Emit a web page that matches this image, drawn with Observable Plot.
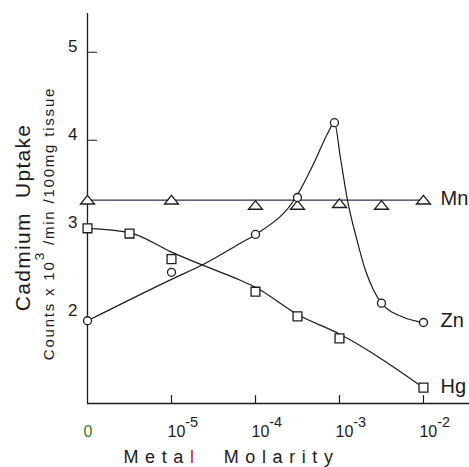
<!DOCTYPE html>
<html>
<head>
<meta charset="utf-8">
<script src="https://cdn.jsdelivr.net/npm/d3@7"></script>
<script src="https://cdn.jsdelivr.net/npm/@observablehq/plot@0.6"></script>
<style>
  html, body { margin: 0; padding: 0; background: #fff; overflow: hidden; }
  #chart svg { display: block; }
</style>
</head>
<body>
<div id="chart"></div>
<script>
// ---- data (x = log10 of metal molarity; the "0" control sits one decade left of 10^-5)
const xTicks = [-6, -5, -4, -3, -2];
const xTickLabels = ["0", "10^{-5}", "10^{-4}", "10^{-3}", "10^{-2}"];
const yTicks = [2, 3, 4, 5];
const yTickMarks = [4, 5];
const xDomain = [-6, -1.452];
const yDomain = [1.01, 5.44];

const series = ["Mn", "Zn", "Hg"];

const mnX = [-6, -5, -4, -3.5, -3, -2.5, -2];
const mnY = [3.32, 3.32, 3.26, 3.26, 3.28, 3.26, 3.32];
const znX = [-6, -5, -4, -3.5, -3.06, -2.5, -2];
const znY = [1.95, 2.50, 2.93, 3.35, 4.20, 2.15, 1.93];
const hgX = [-6, -5.5, -5, -4, -3.5, -3, -2];
const hgY = [3.00, 2.94, 2.65, 2.28, 2.00, 1.75, 1.19];

// hand-drawn fitted curves
const mnFitX = [-6, -2];
const mnFitY = [3.32, 3.32];
const znFitX = [-6, -5, -4.6, -4.18, -4, -3.52, -3.29, -3.14, -3.06, -2.99, -2.905, -2.79, -2.69, -2.595, -2.5, -2.24, -2];
const znFitY = [1.95, 2.42, 2.60, 2.83, 2.93, 3.35, 3.77, 4.08, 4.20, 3.81, 3.32, 2.86, 2.52, 2.30, 2.15, 1.99, 1.93];
const hgFitX = [-6, -5.5, -5, -4.6, -4.18, -4, -3.5, -3, -2];
const hgFitY = [3.00, 2.95, 2.73, 2.57, 2.41, 2.33, 2.02, 1.80, 1.19];

const xTitle = "Metal\u00a0\u00a0Molarity";
const yTitle = "Cadmium\u00a0\u00a0Uptake";
const ySubtitle = "Counts x 10^{3} /min /100mg tissue";

// ---- tables
const table = (xs, ys) => xs.map((x, i) => ({x, y: ys[i]}));
const mn = table(mnX, mnY), zn = table(znX, znY), hg = table(hgX, hgY);
const mnFit = table(mnFitX, mnFitY), znFit = table(znFitX, znFitY), hgFit = table(hgFitX, hgFitY);
const labels = series.map((s, i) => {
  const pts = [mn, zn, hg][i];
  return {x: pts[pts.length - 1].x, y: pts[pts.length - 1].y, text: s};
});

// ---- styles
const ink = "#1c1c1c";
const flatTriangle = {
  draw(context, size) {
    const r = Math.sqrt(size / Math.PI);
    context.moveTo(0, -0.68 * r);
    context.lineTo(r, 0.55 * r);
    context.lineTo(-r, 0.55 * r);
    context.closePath();
  }
};
const tickLine = {
  draw(context, l) { context.moveTo(0, 0); context.lineTo(0, -l); }
};

const chart = Plot.plot({
  width: 469,
  height: 467,
  marginTop: 13,
  marginRight: 0,
  marginBottom: 64,
  marginLeft: 87,
  style: {fontFamily: "'Liberation Sans', Arial, sans-serif", fontSize: "15px", color: ink, background: "#fff"},
  x: {type: "linear", domain: xDomain},
  y: {type: "linear", domain: yDomain},
  marks: [
    Plot.ruleX([xDomain[0]], {stroke: ink, strokeWidth: 1.3}),
    Plot.ruleY([yDomain[0]], {stroke: ink, strokeWidth: 1.6}),
    Plot.vector(xTicks.slice(1), {x: d => d, y: () => yDomain[0], length: 8, rotate: 0, anchor: "start", shape: tickLine, stroke: ink, strokeWidth: 1.2}),
    Plot.vector(yTickMarks, {x: () => xDomain[0], y: d => d, length: 9, rotate: 90, anchor: "start", shape: tickLine, stroke: ink, strokeWidth: 1.2}),
    Plot.axisX(xTicks, {anchor: "bottom", tickSize: 0, tickPadding: 22, textAnchor: "start", dx: -4, fontSize: 16, fill: ink,
      tickFormat: d => xTickLabels[xTicks.indexOf(d)], label: null}),
    Plot.axisY(yTicks, {anchor: "left", tickSize: 0, tickPadding: 10, dy: -6, fontSize: 17, fill: ink,
      tickFormat: d => String(d), label: null}),
    Plot.line(mnFit, {x: "x", y: "y", stroke: "#2f2f50", strokeWidth: 1.3}),
    Plot.line(znFit, {x: "x", y: "y", curve: "monotone-x", stroke: ink, strokeWidth: 1.2}),
    Plot.line(hgFit, {x: "x", y: "y", curve: "monotone-x", stroke: ink, strokeWidth: 1.2}),
    Plot.dot(mn, {x: "x", y: "y", symbol: flatTriangle, r: 7, fill: "#fff", stroke: ink, strokeWidth: 1.3}),
    Plot.dot(zn, {x: "x", y: "y", symbol: "circle", r: 4, fill: "#fff", stroke: ink, strokeWidth: 1.3}),
    Plot.dot(hg, {x: "x", y: "y", symbol: "square", r: 5, fill: "#fff", stroke: ink, strokeWidth: 1.3}),
    Plot.text(labels, {x: "x", y: "y", text: "text", dx: 17, dy: -1.5, textAnchor: "start", fontSize: 20, fill: ink}),
    Plot.text([yTitle], {frameAnchor: "left", dx: -58, dy: 9, rotate: -90, textAnchor: "middle", lineAnchor: "bottom", fontSize: 21, fill: ink}),
    Plot.text([ySubtitle], {frameAnchor: "left", dx: -34, dy: 15, rotate: -90, textAnchor: "middle", lineAnchor: "bottom", fontSize: 15, fill: ink}),
    Plot.text([xTitle], {frameAnchor: "bottom-left", dx: 36, dy: 59, textAnchor: "start", lineAnchor: "bottom", fontSize: 18, fill: ink})
  ]
});

// ---- typographic touches: letter spacing, superscripts, scan-tinted letters
const spacing = new Map([[xTitle, "6.6px"], [yTitle, "1.3px"], [ySubtitle, "1.8px"]]);
d3.select(chart).selectAll("text").each(function() {
  const el = d3.select(this);
  const s = el.text();
  if (spacing.has(s)) el.style("letter-spacing", spacing.get(s));
  if (s === xTitle) {
    el.text(null);
    el.append("tspan").text(s.slice(0, 4));
    el.append("tspan").attr("fill", "#d01818").text(s.slice(4, 5));
    el.append("tspan").text(s.slice(5));
    return;
  }
  if (s === "0") { el.attr("fill", "#2f7d2f"); return; }
  if (!s.includes("^{")) return;
  el.text(null);
  let raised = false;
  for (const part of s.split(/(\^\{[^}]*\})/)) {
    if (!part) continue;
    if (part.startsWith("^{")) {
      el.append("tspan").attr("dy", -10).style("font-size", "0.9em").text(part.slice(2, -1));
      raised = true;
    } else {
      const t = el.append("tspan").text(part);
      if (raised) { t.attr("dy", 10); raised = false; }
    }
  }
});

document.getElementById("chart").append(chart);
</script>
</body>
</html>
